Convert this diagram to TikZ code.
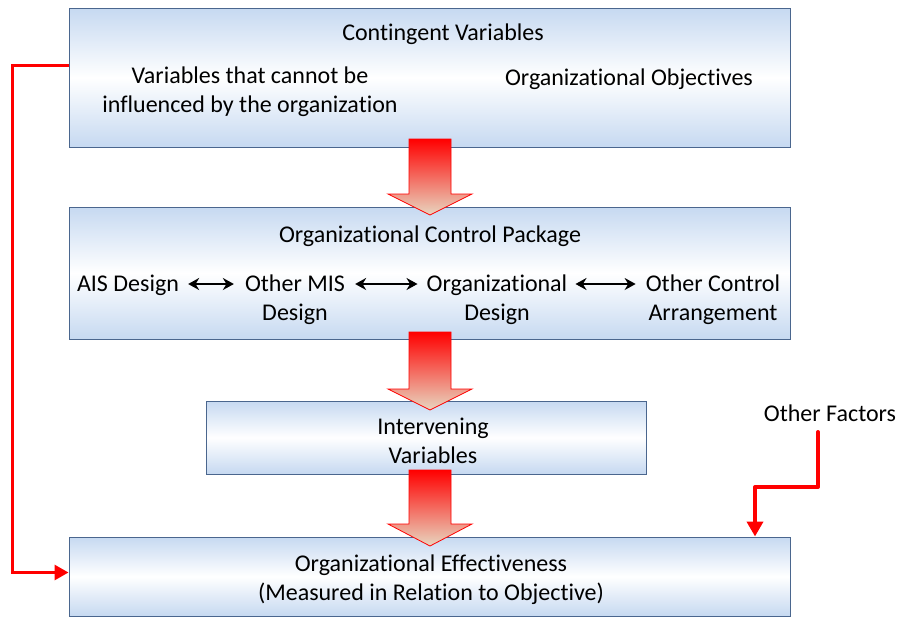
\documentclass[tikz,border=0pt]{standalone}
\usepackage{fontspec}
\setmainfont{Carlito}[Ligatures={NoCommon,NoDiscretionary,NoRare,NoContextual}]
\usetikzlibrary{arrows.meta,calc}
\definecolor{boxblue}{RGB}{198,217,241}
\definecolor{boxedge}{RGB}{74,102,142}
\definecolor{beige}{RGB}{232,214,192}
\definecolor{pured}{RGB}{255,0,0}
\tikzset{
  boxstyle/.style={draw=boxedge, line width=1pt, rectangle, inner sep=0pt,
    top color=boxblue, bottom color=boxblue, middle color=white},
  txt/.style={align=center, inner sep=0pt, font=\fontsize{24}{29.3}\selectfont},
  blockarrow/.style={draw=pured, line width=0.8pt, top color=pured, bottom color=beige},
  redline/.style={draw=pured, line width=3pt, -{Triangle[length=14pt,width=15pt]}},
  dblarrow/.style={line width=2.6pt, {Stealth[length=11pt,width=12pt]}-{Stealth[length=11pt,width=12pt]}}
}
\begin{document}
\begin{tikzpicture}[x=1pt,y=-1pt]
\useasboundingbox (0,0) rectangle (900,619);
% boxes
\node[boxstyle, minimum width=721pt, minimum height=139pt] (box1) at (429.5,77.5) {};
\node[boxstyle, minimum width=721pt, minimum height=132pt] (box2) at (429.5,273) {};
\node[boxstyle, minimum width=440pt, minimum height=73pt] (box3) at (426,437.5) {};
\node[boxstyle, minimum width=721pt, minimum height=79pt] (box4) at (429.5,576.5) {};
% block arrows
\newcommand\blockarr[3]{%
  \draw[blockarrow] (409,#1) -- (451,#1) -- (451,#2) -- (472,#2) -- (430,#3) -- (388,#2) -- (409,#2) -- cycle;}
\blockarr{139}{194}{215}
\blockarr{332}{389}{410}
\blockarr{470}{524}{546}
% texts
\node[txt] (t1) at (443,34) {Contingent Variables};
\node[txt] (t2) at (250,91.5) {Variables that cannot be\\influenced by the organization};
\node[txt] (t3) at (629,79) {Organizational Objectives};
\node[txt] (t4) at (430,236) {Organizational Control Package};
\node[txt] (a1) at (128,285) {AIS Design};
\node[txt] (a2) at (295,299.5) {Other MIS\\Design};
\node[txt] (a3) at (497,299.5) {Organizational\\Design};
\node[txt] (a4) at (713,299.5) {Other Control\\Arrangement};
\node[txt] (t5) at (433,440.5) {Intervening\\Variables};
\node[txt] (t6) at (431,580) {Organizational Effectiveness\\(Measured in Relation to Objective)};
\node[txt] (of) at (830,413) {Other Factors};
% double arrows
\coordinate (arow) at ([yshift=1pt]a1.east);
\draw[dblarrow] ([xshift=9pt]arow) -- ([xshift=-11pt]a2.west |- arow);
\draw[dblarrow] ([xshift=10pt]a2.east |- arow) -- ([xshift=-9pt]a3.west |- arow);
\draw[dblarrow] ([xshift=8pt]a3.east |- arow) -- ([xshift=-10pt]a4.west |- arow);
% red feedback line
\draw[redline] ([yshift=12.5pt]box1.west) -- ++(-56,0) |- ([yshift=4pt]box4.west);
% other factors
\coordinate (ofs) at (818,432);
\draw[draw=pured, line width=4pt, line cap=round, line join=round, -{Triangle[length=15pt,width=16pt]}]
  (ofs) -- ++(0,55) -| ([xshift=325.5pt]box4.north);
\end{tikzpicture}
\end{document}
